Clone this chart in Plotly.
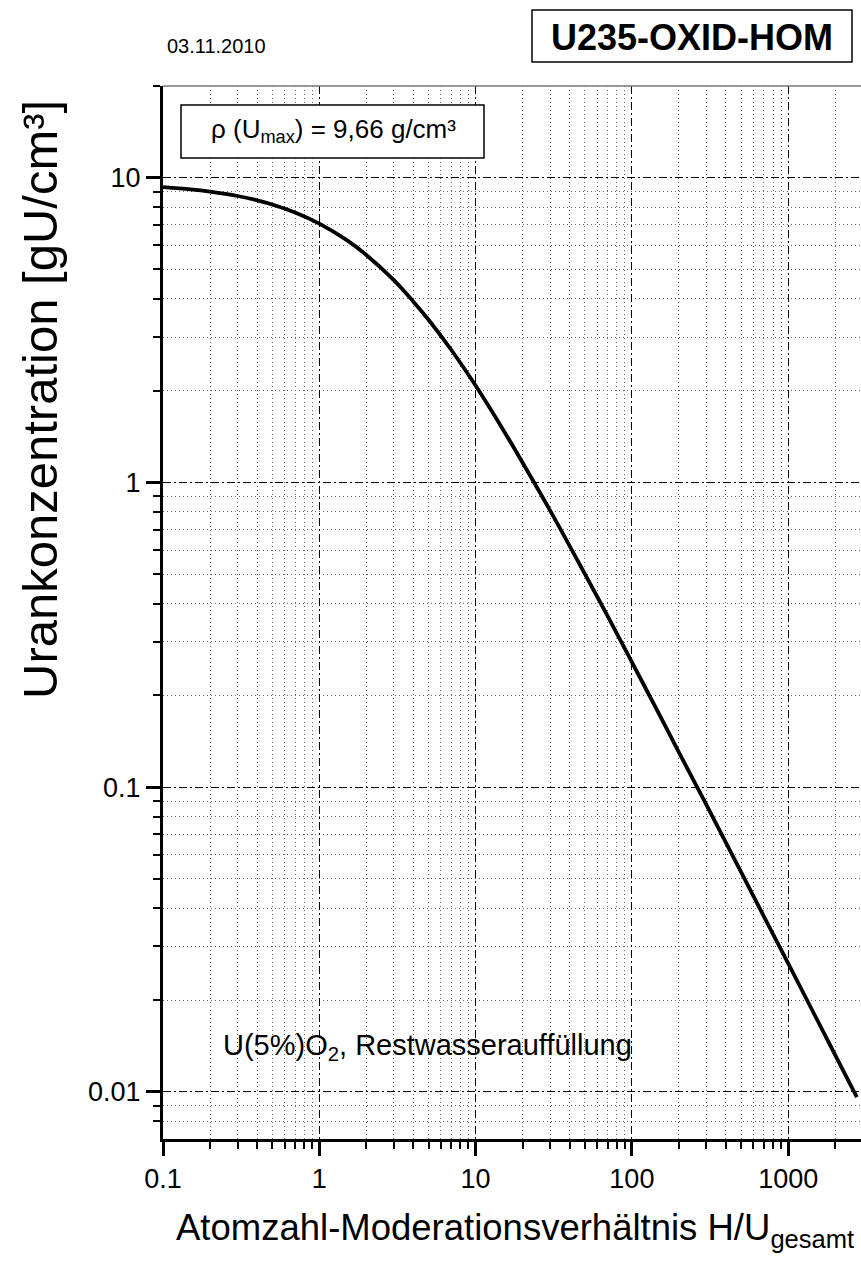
import plotly.graph_objects as go

# ---- data ----
hu_ratio = [0.1, 0.15, 0.2, 0.3, 0.4, 0.5, 0.7, 1, 1.5, 2, 3, 4, 5, 7, 10, 15, 20, 30,
            50, 70, 100, 150, 200, 300, 500, 700, 1000, 1500, 2000, 2750]
u_conc = [9.32, 9.16, 9.00, 8.71, 8.43, 8.17, 7.69, 7.07, 6.24, 5.58, 4.61, 3.92, 3.42,
          2.72, 2.08, 1.49, 1.16, 0.808, 0.501, 0.364, 0.257, 0.173, 0.130, 0.0874,
          0.0526, 0.0376, 0.0264, 0.0176, 0.0132, 0.0096]

x_major = [0.1, 1, 10, 100, 1000]
x_major_text = ["0.1", "1", "10", "100", "1000"]
y_major = [0.01, 0.1, 1, 10]
y_major_text = ["0.01", "0.1", "1", "10"]

x_minor = [m * d for d in [0.1, 1, 10, 100, 1000] for m in range(2, 10)]
y_minor = [0.008, 0.009] + [m * d for d in [0.01, 0.1, 1] for m in range(2, 10)] + [20]

date_text = "03.11.2010"
title_text = "U235-OXID-HOM"
density_text = "ρ (U<sub>max</sub>) = 9,66 g/cm³"
material_text = "U(5%)O<sub>2</sub>, Restwasserauffüllung"
x_title = "Atomzahl-Moderationsverhältnis H/U<sub>gesamt</sub>"
y_title = "Urankonzentration [gU/cm³]"

# ---- layout geometry (pixels) ----
W, H = 861, 1264
ML, MR, MT, MB = 163, 0, 86, 125
PW, PH = W - ML - MR, H - MT - MB


def px(x):
    return (x - ML) / PW


def py(y):
    return 1 - (y - MT) / PH


FONT = "Liberation Sans, Arial, sans-serif"
MAJOR_DASH = "8px,3px,2px,3px"
MINOR_DASH = "1px,3px"

fig = go.Figure()
fig.add_trace(go.Scatter(
    x=hu_ratio, y=u_conc, mode="lines",
    line=dict(color="black", width=3.8, shape="spline"),
    hoverinfo="skip", showlegend=False,
))

axis_common = dict(
    type="log",
    showline=True, linecolor="black", linewidth=3,
    ticks="outside", ticklen=14, tickwidth=3, tickcolor="black",
    showgrid=True, gridcolor="black", gridwidth=1, griddash=MAJOR_DASH,
    tickfont=dict(family=FONT, size=27, color="black"),
    zeroline=False,
)

fig.update_xaxes(
    **axis_common,
    range=[-1, 3.466],
    tickmode="array", tickvals=x_major, ticktext=x_major_text,
    minor=dict(tickmode="array", tickvals=x_minor, ticks="outside", ticklen=7,
               tickwidth=2, tickcolor="black", showgrid=True,
               gridcolor="#666", gridwidth=1, griddash=MINOR_DASH),
)
fig.update_yaxes(
    **axis_common,
    range=[-2.1549, 1.30103],
    tickmode="array", tickvals=y_major, ticktext=y_major_text,
    minor=dict(tickmode="array", tickvals=y_minor, ticks="outside", ticklen=7,
               tickwidth=2, tickcolor="black", showgrid=True,
               gridcolor="#666", gridwidth=1, griddash=MINOR_DASH),
)

shapes = [
    dict(type="line", xref="paper", yref="paper", x0=0, x1=1, y0=1, y1=1,
         line=dict(color="#777", width=1.5), layer="above"),
    dict(type="rect", xref="paper", yref="paper",
         x0=px(532), x1=px(852), y0=py(62), y1=py(10),
         line=dict(color="black", width=1.5), fillcolor="white"),
    dict(type="rect", xref="paper", yref="paper",
         x0=px(181), x1=px(484), y0=py(158), y1=py(105),
         line=dict(color="black", width=1.5), fillcolor="white", layer="above"),
]

annotations = [
    dict(text=date_text, x=px(165), y=py(46), xref="paper", yref="paper",
         xanchor="left", yanchor="middle", showarrow=False,
         font=dict(family=FONT, size=20, color="black")),
    dict(text="<b>" + title_text + "</b>", x=px(692), y=py(37), xref="paper", yref="paper",
         xanchor="center", yanchor="middle", showarrow=False,
         font=dict(family=FONT, size=36, color="black")),
    dict(text=density_text, x=px(333), y=py(131), xref="paper", yref="paper",
         xanchor="center", yanchor="middle", showarrow=False,
         font=dict(family=FONT, size=26, color="black")),
    dict(text=material_text, x=px(221), y=py(1047), xref="paper", yref="paper",
         xanchor="left", yanchor="middle", showarrow=False,
         font=dict(family=FONT, size=29, color="black")),
    dict(text=x_title, x=px(174), y=py(1230), xref="paper", yref="paper",
         xanchor="left", yanchor="middle", showarrow=False,
         font=dict(family=FONT, size=36.5, color="black")),
    dict(text=y_title, x=px(40), y=py(400), xref="paper", yref="paper",
         xanchor="center", yanchor="middle", showarrow=False, textangle=-90,
         font=dict(family=FONT, size=49, color="black")),
]

fig.update_layout(
    width=W, height=H,
    margin=dict(l=ML, r=MR, t=MT, b=MB, pad=0),
    plot_bgcolor="white", paper_bgcolor="white",
    shapes=shapes, annotations=annotations,
    showlegend=False,
)

fig.write_html(
    "out.html",
    config={"displayModeBar": False},
    post_script="document.body.style.margin='0';document.body.style.overflow='hidden';",
)
